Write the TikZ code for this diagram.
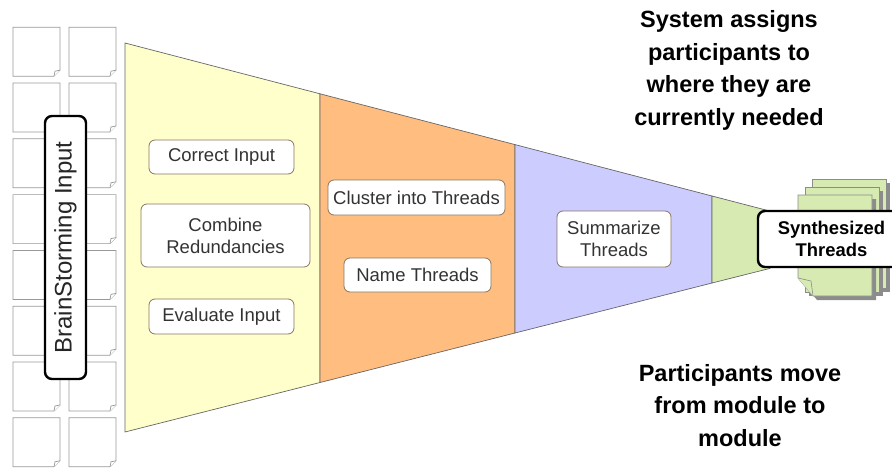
\documentclass[tikz,border=0pt]{standalone}
\usepackage{fontspec}
\setmainfont{Liberation Sans}
\begin{document}
\begin{tikzpicture}[x=1pt,y=-1pt,
  stagebox/.style={draw=black!55!brown!70, line width=0.8pt, fill=white,
    rounded corners=6pt, inner sep=0pt, align=center, text=black!80,
    font=\fontsize{18.5}{22}\selectfont},
  keybox/.style={draw=black, line width=2.4pt, fill=white,
    rounded corners=7pt, inner sep=0pt, align=center},
  note/.style={draw=black!40, line width=0.7pt, fill=white},
  stage/.style={draw=black!60, line width=0.7pt},
  page/.style={draw=black!45, line width=0.6pt, fill=sheetgreen},
  pageshadow/.style={fill=black!45, draw=none},
  remark/.style={align=center, font=\bfseries\fontsize{23.5}{32.5}\selectfont}]
\definecolor{stageyellow}{RGB}{255,255,204}
\definecolor{stageorange}{RGB}{255,189,128}
\definecolor{stagepurple}{RGB}{204,204,255}
\definecolor{stagegreen}{RGB}{214,234,178}
\definecolor{sheetgreen}{RGB}{214,234,178}

\useasboundingbox (0,0) rectangle (892,469);
\clip (0,0) rectangle (892,469);

% sticky notes: two columns, eight rows
\foreach \r in {0,...,7}{
  \foreach \c in {13,69}{
    \pgfmathsetmacro{\t}{27.2+55.8*\r}
    \draw[note] (\c,\t) -- ++(47,0) -- ++(0,43) -- ++(-6,6) -- ++(-41,0) -- cycle;
    \draw[note] (\c+41,\t+49) -- (\c+42,\t+44) -- (\c+47,\t+43);
  }
}

% funnel stages
\draw[stage, fill=stageyellow] (125,43) -- (320,93.8) -- (320,382.5) -- (125,432) -- cycle;
\draw[stage, fill=stageorange] (320,93.8) -- (515,144.6) -- (515,333) -- (320,382.5) -- cycle;
\draw[stage, fill=stagepurple] (515,144.6) -- (712,196) -- (712,283) -- (515,333) -- cycle;
\draw[stage, fill=stagegreen] (712,196) -- (770,211.1) -- (770,268.4) -- (712,283) -- cycle;

% stacked thread sheets
\fill[pageshadow] (816,183) rectangle (890,292);
\draw[page] (812,179) rectangle (886,288);
\fill[pageshadow] (809,191) rectangle (883,296);
\draw[page] (805,187) rectangle (879,292);
\fill[pageshadow] (802,199) -- (876,199) -- (876,300) -- (817,300) -- (802,282) -- cycle;
\draw[page] (798,195) -- (872,195) -- (872,296) -- (813,296) -- (798,278) -- cycle;
\draw[page] (798,278) -- (811,281) -- (813,296);

% modules
\node[keybox, rotate=90, minimum width=263pt, minimum height=41pt,
  font=\fontsize{24}{28}\selectfont, text=black!85] (input) at (65.5,247.5) {BrainStorming Input};

\node[stagebox, minimum width=145pt, minimum height=34pt] (correct) at (221.5,157) {Correct Input};
\node[stagebox, minimum width=169pt, minimum height=63pt] (combine) at (225.5,235.5) {Combine\\Redundancies};
\node[stagebox, minimum width=145pt, minimum height=35pt] (evaluate) at (221.5,316.5) {Evaluate Input};
\node[stagebox, minimum width=177pt, minimum height=35pt] (cluster) at (416.5,197.5) {Cluster into Threads};
\node[stagebox, minimum width=147pt, minimum height=34pt] (name) at (417.5,275) {Name Threads};
\node[stagebox, minimum width=114pt, minimum height=56pt] (summarize) at (614,239) {Summarize\\Threads};

\node[keybox, minimum width=147pt, minimum height=56pt,
  font=\bfseries\fontsize{18.4}{21.5}\selectfont] (synth) at (831.5,239) {Synthesized\\Threads};

% remarks
\node[remark] (assign) at (729,70.5) {System assigns\\participants to\\where they are\\currently needed};
\node[remark] (move) at (740,405.5) {Participants move\\from module to\\module};
\end{tikzpicture}
\end{document}
